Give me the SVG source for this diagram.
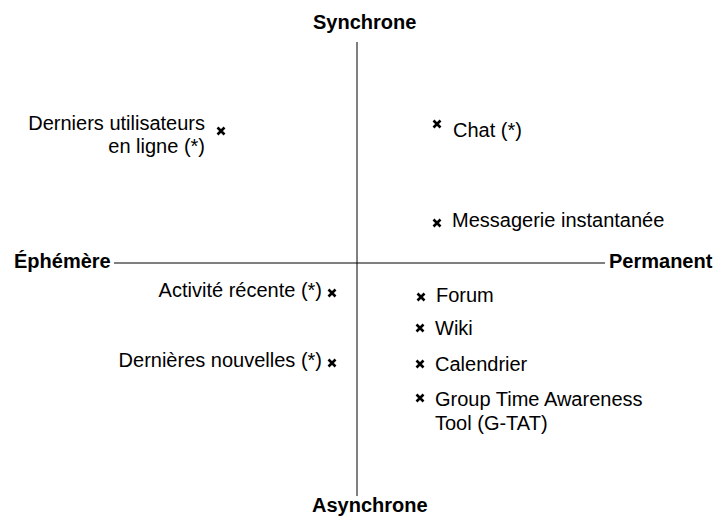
<svg xmlns="http://www.w3.org/2000/svg" width="715" height="518" viewBox="0 0 715 518">
<style>
text{font-family:"Liberation Sans",Arial,sans-serif;font-size:20px;fill:#000}
.b{font-weight:bold}
.r{text-anchor:end}
.x{stroke:#000;stroke-width:2.6;stroke-linecap:butt}
.ax{stroke:#000;stroke-width:1;fill:none}
</style>
<defs>
<path id="m" class="x" d="M-3.5,-3.5L3.5,3.5M3.5,-3.5L-3.5,3.5"/>
</defs>
<g id="axes">
<line class="ax" x1="357" y1="42" x2="357" y2="496"/>
<line class="ax" x1="114" y1="263" x2="605" y2="263" stroke="#555"/>
</g>
<g id="synchrone"><text class="b" x="313" y="29">Synchrone</text></g>
<g id="asynchrone"><text class="b" x="312" y="512">Asynchrone</text></g>
<g id="ephemere"><text class="b" x="14" y="268">Éphémère</text></g>
<g id="permanent"><text class="b" x="609" y="268">Permanent</text></g>
<g id="derniers-utilisateurs">
<use href="#m" x="221" y="131"/>
<text class="r" x="205" y="130">Derniers utilisateurs</text>
<text class="r" x="205" y="153">en ligne (*)</text>
</g>
<g id="chat"><use href="#m" x="437" y="124"/><text x="453" y="137">Chat (*)</text></g>
<g id="messagerie"><use href="#m" x="437" y="223"/><text x="452" y="227">Messagerie instantanée</text></g>
<g id="activite"><use href="#m" x="332" y="293"/><text class="r" x="322" y="297">Activité récente (*)</text></g>
<g id="nouvelles"><use href="#m" x="332" y="363"/><text class="r" x="322" y="367">Dernières nouvelles (*)</text></g>
<g id="forum"><use href="#m" x="421" y="297"/><text x="436" y="302">Forum</text></g>
<g id="wiki"><use href="#m" x="420" y="328"/><text x="435" y="335">Wiki</text></g>
<g id="calendrier"><use href="#m" x="420" y="364"/><text x="435" y="371">Calendrier</text></g>
<g id="gtat"><use href="#m" x="420" y="398"/><text x="435" y="406">Group Time Awareness</text><text x="435" y="430">Tool (G-TAT)</text></g>
</svg>
